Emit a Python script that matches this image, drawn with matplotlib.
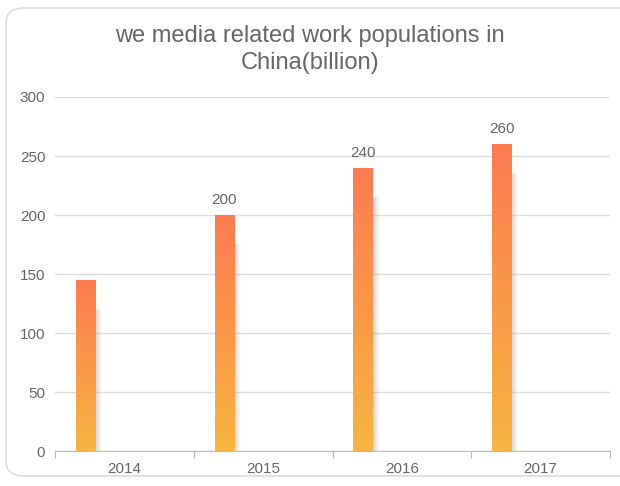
import matplotlib
matplotlib.use('Agg')
import matplotlib.pyplot as plt
import numpy as np
from matplotlib.patches import FancyBboxPatch, Rectangle
from matplotlib.colors import LinearSegmentedColormap

years = ['2014', '2015', '2016', '2017']
values = [145, 200, 240, 260]
labels_shown = [None, '200', '240', '260']

plt.rcParams['font.family'] = ['Liberation Sans', 'DejaVu Sans']

fig = plt.figure(figsize=(6.2, 4.86), dpi=100)
ax = fig.add_axes([55/620, 1 - 451/486, 555/620, 354/486])

# rounded card border
card = FancyBboxPatch((6/620, 10/486), 640/620, 468/486,
                      boxstyle='round,pad=0,rounding_size=0.03',
                      transform=fig.transFigure, fill=False,
                      edgecolor='#dddddd', linewidth=1.2, zorder=0)
fig.patches.append(card)

cmap = LinearSegmentedColormap.from_list('bar', ['#f7b53f', '#fd7b50'])
shadow = LinearSegmentedColormap.from_list('sh', [(0.55, 0.55, 0.55, 0.4), (0.6, 0.6, 0.6, 0.0)])

x = np.arange(len(years))
w = 0.14
offset = -0.28
for xi, v, lab in zip(x, values, labels_shown):
    left = xi + offset - w / 2
    # soft shadow on the right side
    sh = ax.imshow(np.linspace(0, 1, 50).reshape(1, -1), cmap=shadow, aspect='auto',
                   extent=[left + w, left + w + 0.05, 0, v - 25], zorder=1)
    grad = np.linspace(0, 1, 256).reshape(-1, 1)
    im = ax.imshow(grad, cmap=cmap, aspect='auto', origin='lower',
                   extent=[left, left + w, 0, v], zorder=2)
    rect = Rectangle((left, 0), w, v, transform=ax.transData, visible=False)
    ax.add_patch(rect)
    im.set_clip_path(rect)
    if lab:
        ax.text(xi + offset, v + 7, lab, ha='center', va='bottom',
                fontsize=11, color='#666666')

ax.set_xlim(-0.5, 3.5)
ax.set_ylim(0, 300)
ax.set_yticks(range(0, 301, 50))
ax.yaxis.grid(True, color='#dddddd', linewidth=1)
ax.set_axisbelow(True)
ax.set_xticks(np.arange(-0.5, 3.6, 1))
ax.set_xticklabels([])
ax.set_xticks(x, minor=True)
ax.set_xticklabels(years, minor=True)
ax.tick_params(axis='x', which='major', length=5, color='#bbbbbb', direction='out')
ax.tick_params(axis='x', which='minor', length=0, pad=8, labelsize=11, labelcolor='#666666')
ax.tick_params(axis='y', length=0, pad=7, labelsize=11, labelcolor='#666666')
for s in ['top', 'right', 'left']:
    ax.spines[s].set_visible(False)
ax.spines['bottom'].set_color('#bbbbbb')

fig.text(0.5, 1 - 25/486, 'we media related work populations in\nChina(billion)',
         ha='center', va='top', fontsize=17, color='#666666', linespacing=1.3)

fig.savefig('out.png', dpi=100)
